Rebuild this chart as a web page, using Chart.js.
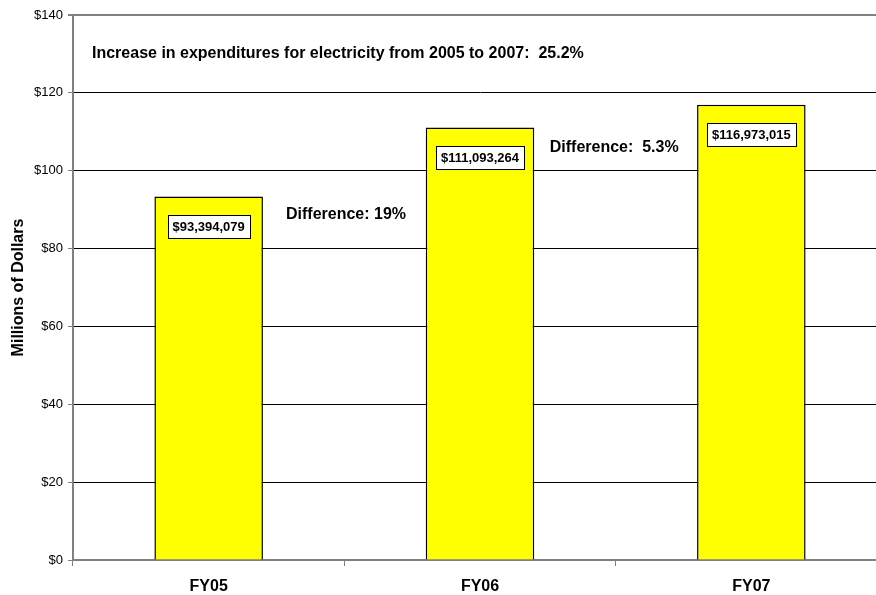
<!DOCTYPE html>
<html>
<head>
<meta charset="utf-8">
<title>Electricity Expenditures</title>
<script src="https://cdn.jsdelivr.net/npm/chart.js@4.4.0/dist/chart.umd.min.js"></script>
<style>
  html, body { margin: 0; padding: 0; background: #fff; overflow: hidden; }
  #wrap { position: relative; width: 888px; height: 595px; }
</style>
</head>
<body>
<div id="wrap"><canvas id="myChart"></canvas></div>
<script>
// fiscal years and spending (millions of dollars)
var years = ['FY05', 'FY06', 'FY07'];
var spending = [93.394079, 111.093264, 116.973015];
var spendingLabels = ['$93,394,079', '$111,093,264', '$116,973,015'];

// free text notes: [text, x (category index), y (millions)]
var notes = [
    ['Increase in expenditures for electricity from 2005 to 2007:  25.2%', -0.43, 130],
    ['Difference: 19%', 0.285, 88.6],
    ['Difference:  5.3%', 1.257, 106]
];

var FONT = '"Liberation Sans", Arial, sans-serif';

// boxed value labels inside the top of each bar
var boxLabels = {
    id: 'boxLabels',
    afterDatasetsDraw: function(chart){
        var ctx = chart.ctx;
        var meta = chart.getDatasetMeta(0);
        ctx.save();
        ctx.font = 'bold 13px ' + FONT;
        ctx.textAlign = 'center';
        ctx.textBaseline = 'middle';
        for(var i=0;i<meta.data.length;i++){
            var bar = meta.data[i];
            var txt = spendingLabels[i];
            var w = ctx.measureText(txt).width + 10;
            var h = 23;
            var cy = bar.y + 30;
            ctx.fillStyle = '#fff';
            ctx.fillRect(Math.round(bar.x - w/2)+0.5, Math.round(cy - h/2)+0.5, Math.round(w), h);
            ctx.strokeStyle = '#000';
            ctx.lineWidth = 1;
            ctx.strokeRect(Math.round(bar.x - w/2)+0.5, Math.round(cy - h/2)+0.5, Math.round(w), h);
            ctx.fillStyle = '#000';
            ctx.fillText(txt, bar.x, cy + 1);
        }
        ctx.restore();
    }
};

var noteText = {
    id: 'noteText',
    afterDraw: function(chart){
        var ctx = chart.ctx;
        var xs = chart.scales.x, ys = chart.scales.y;
        ctx.save();
        ctx.font = 'bold 16px ' + FONT;
        ctx.fillStyle = '#000';
        ctx.textAlign = 'left';
        ctx.textBaseline = 'middle';
        for(var i=0;i<notes.length;i++){
            ctx.fillText(notes[i][0], xs.getPixelForValue(notes[i][1]), ys.getPixelForValue(notes[i][2]));
        }
        ctx.restore();
    }
};

var ctx = document.getElementById('myChart').getContext('2d');
var myChart = new Chart(ctx, {
    type: 'bar',
    data: {
        labels: years,
        datasets: [{
            data: spending,
            backgroundColor: '#FFFF00',
            borderColor: '#000',
            borderWidth: 1.5,
            categoryPercentage: 1,
            barPercentage: 0.4
        }]
    },
    options: {
        responsive: true,
        maintainAspectRatio: false,
        animation: false,
        layout: { padding: { top: 15, right: 1, left: 0, bottom: 0 } },
        plugins: {
            legend: { display: false },
            tooltip: { enabled: false }
        },
        scales: {
            x: {
                afterFit: function(scale){ scale.height = 35; },
                grid: {
                    offset: true,
                    drawOnChartArea: false,
                    drawTicks: true,
                    tickLength: 6,
                    tickColor: '#808080',
                    lineWidth: 1
                },
                border: { color: '#808080', width: 2 },
                ticks: {
                    color: '#000',
                    padding: 11,
                    font: { family: FONT, size: 16, weight: 'bold' }
                }
            },
            y: {
                min: 0,
                max: 140,
                afterFit: function(scale){ scale.width = 73; },
                grid: {
                    color: function(c){ return c.tick && c.tick.value === 140 ? '#808080' : '#000'; },
                    lineWidth: function(c){ return c.tick && c.tick.value === 140 ? 2 : 1; },
                    tickLength: 5,
                    tickColor: '#808080'
                },
                border: { color: '#808080', width: 2 },
                ticks: {
                    stepSize: 20,
                    color: '#000',
                    padding: 5,
                    font: { family: FONT, size: 13 },
                    callback: function(v){ return '$' + v; }
                },
                title: {
                    display: true,
                    text: 'Millions of Dollars',
                    color: '#000',
                    padding: { top: 9, bottom: 0 },
                    font: { family: FONT, size: 16, weight: 'bold' }
                }
            }
        }
    },
    plugins: [boxLabels, noteText]
});
</script>
</body>
</html>
